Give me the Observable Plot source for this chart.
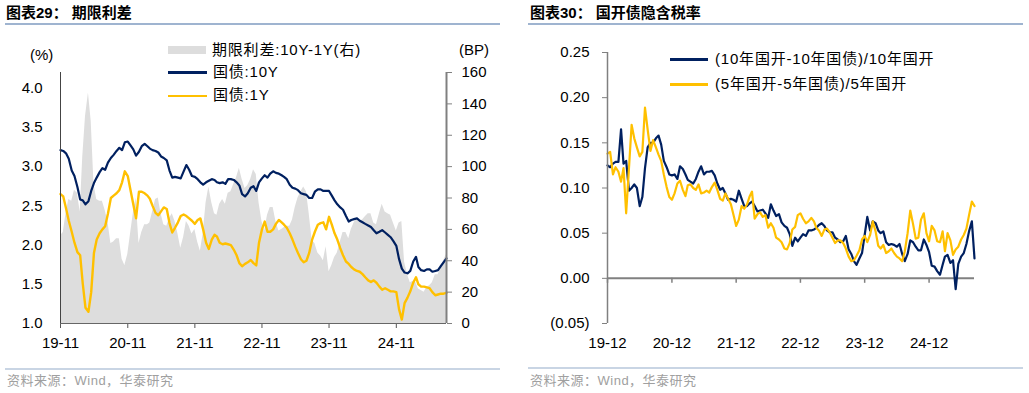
<!DOCTYPE html>
<html>
<head>
<meta charset="utf-8">
<script src="https://cdn.jsdelivr.net/npm/d3@7"></script>
<script src="https://cdn.jsdelivr.net/npm/@observablehq/plot@0.6"></script>
<style>
  html, body { margin: 0; padding: 0; background: #fff; }
  body { width: 1029px; height: 393px; position: relative; overflow: hidden;
         font-family: "Liberation Sans", Arial, "Noto Sans CJK SC", sans-serif; color: #000; }
  .abs { position: absolute; white-space: nowrap; }
  .title { font-size: 15px; font-weight: bold; line-height: 18px; }
  .hr { height: 1.5px; background: #9fb4d0; }
  .fr { height: 2px; background: #c9d5e4; }
  .src { font-size: 13px; color: #a0a0a0; line-height: 16px; letter-spacing: 0.5px; }
  .lg { font-size: 15px; line-height: 18px; letter-spacing: 0.8px; }
  .unit { font-size: 15px; line-height: 18px; }
</style>
</head>
<body>
<script>
// ---------- Chart 29: 期限利差 ----------
const dates1 = (
  "2019-11-01 2019-11-16 2019-12-01 2019-12-16 " +
  "2020-01-01 2020-01-16 2020-02-01 2020-02-16 2020-03-01 2020-03-16 2020-04-01 2020-04-16 2020-05-01 2020-05-16 2020-06-01 2020-06-16 " +
  "2020-07-01 2020-07-16 2020-08-01 2020-08-16 2020-09-01 2020-09-16 2020-10-01 2020-10-16 2020-11-01 2020-11-16 2020-12-01 2020-12-16 " +
  "2021-01-01 2021-01-16 2021-02-01 2021-02-16 2021-03-01 2021-03-16 2021-04-01 2021-04-16 2021-05-01 2021-05-16 2021-06-01 2021-06-16 " +
  "2021-07-01 2021-07-16 2021-08-01 2021-08-16 2021-09-01 2021-09-16 2021-10-01 2021-10-16 2021-11-01 2021-11-16 2021-12-01 2021-12-16 " +
  "2022-01-01 2022-01-16 2022-02-01 2022-02-16 2022-03-01 2022-03-16 2022-04-01 2022-04-16 2022-05-01 2022-05-16 2022-06-01 2022-06-16 " +
  "2022-07-01 2022-07-16 2022-08-01 2022-08-16 2022-09-01 2022-09-16 2022-10-01 2022-10-16 2022-11-01 2022-11-16 2022-12-01 2022-12-16 " +
  "2023-01-01 2023-01-16 2023-02-01 2023-02-16 2023-03-01 2023-03-16 2023-04-01 2023-04-16 2023-05-01 2023-05-16 2023-06-01 2023-06-16 " +
  "2023-07-01 2023-07-16 2023-08-01 2023-08-16 2023-09-01 2023-09-16 2023-10-01 2023-10-16 2023-11-01 2023-11-16 2023-12-01 2023-12-16 " +
  "2024-01-01 2024-01-16 2024-02-01 2024-02-16 2024-03-01 2024-03-16 2024-04-01 2024-04-16 2024-05-01 2024-05-16 2024-06-01 2024-06-16 " +
  "2024-07-01 2024-07-16 2024-08-01 2024-08-16 2024-09-01 2024-09-16 2024-10-01 2024-10-16 2024-11-01 2024-11-16 2024-12-01 2024-12-16 " +
  "2025-01-01 2025-01-16 2025-02-01 2025-02-16 2025-03-01 2025-03-16 2025-04-01 2025-04-16 2025-05-01 2025-05-16 2025-06-01 2025-06-16 " +
  "2025-07-01 2025-07-16 2025-08-01").split(" ");

const cgb10y = [
  3.21, 3.20, 3.17, 3.10, 2.95, 2.88, 2.74, 2.58, 2.57, 2.52,
  2.56, 2.69, 2.79, 2.86, 2.93, 2.98, 2.96, 3.05, 3.11, 3.15,
  3.20, 3.24, 3.21, 3.31, 3.32, 3.27, 3.22, 3.14, 3.19, 3.26,
  3.29, 3.26, 3.23, 3.21, 3.20, 3.18, 3.13, 3.11, 3.08, 2.95,
  2.86, 2.87, 2.86, 2.85, 2.94, 3.02, 2.96, 2.88, 2.87, 2.84,
  2.80, 2.77, 2.80, 2.82, 2.84, 2.83, 2.80, 2.79, 2.80, 2.78,
  2.84, 2.84, 2.83, 2.80, 2.76, 2.65, 2.62, 2.66, 2.73, 2.75,
  2.69, 2.80, 2.85, 2.89, 2.86, 2.91, 2.94, 2.92, 2.91, 2.89,
  2.87, 2.84, 2.77, 2.73, 2.72, 2.70, 2.66, 2.65, 2.64, 2.60,
  2.60, 2.68, 2.71, 2.71, 2.69, 2.69, 2.69, 2.63, 2.57, 2.52,
  2.48, 2.45, 2.37, 2.30, 2.32, 2.33, 2.34, 2.31, 2.29, 2.27,
  2.25, 2.23, 2.19, 2.15, 2.17, 2.19, 2.16, 2.13, 2.10, 2.05,
  1.99, 1.82, 1.70, 1.65, 1.64, 1.67, 1.79, 1.85, 1.72, 1.68,
  1.67, 1.69, 1.69, 1.66, 1.67, 1.68, 1.73, 1.78, 1.83
];
const cgb1y = [
  2.65, 2.62, 2.47, 2.31, 2.17, 2.03, 1.91, 1.87, 1.51, 1.20,
  1.15, 1.40, 1.90, 2.07, 2.15, 2.20, 2.24, 2.40, 2.60, 2.63,
  2.66, 2.70, 2.80, 2.94, 2.88, 2.70, 2.52, 2.34, 2.68, 2.68,
  2.66, 2.63, 2.59, 2.50, 2.41, 2.38, 2.43, 2.48, 2.46, 2.28,
  2.16, 2.22, 2.29, 2.37, 2.39, 2.37, 2.34, 2.31, 2.27, 2.32,
  2.34, 2.20, 2.03, 1.95, 2.07, 2.13, 2.11, 2.03, 2.01, 2.02,
  2.01, 2.00, 1.94, 1.87, 1.77, 1.73, 1.76, 1.78, 1.81, 1.77,
  1.74, 2.03, 2.20, 2.30, 2.17, 2.17, 2.20, 2.27, 2.32, 2.29,
  2.26, 2.22, 2.15, 2.07, 1.98, 1.90, 1.82, 1.78, 1.80, 1.90,
  2.07, 2.17, 2.26, 2.28, 2.29, 2.20, 2.36, 2.26, 2.15, 2.07,
  1.96, 1.87, 1.79, 1.76, 1.72, 1.69, 1.67, 1.66, 1.63, 1.59,
  1.55, 1.53, 1.55, 1.52, 1.47, 1.43, 1.45, 1.43, 1.41, 1.41,
  1.40, 1.18, 1.05, 1.26, 1.33, 1.41, 1.52, 1.59, 1.50, 1.47,
  1.47, 1.46, 1.45, 1.40, 1.36, 1.37, 1.38, 1.38, 1.39
];
const spreadBP = [
  56, 58, 70, 79, 78, 85, 83, 71, 106, 132,
  147, 129, 89, 79, 78, 78, 72, 65, 51, 52,
  54, 54, 41, 37, 44, 57, 70, 80, 51, 58,
  63, 63, 64, 71, 79, 80, 70, 63, 62, 67,
  70, 65, 57, 48, 55, 65, 62, 57, 60, 52,
  46, 57, 77, 87, 77, 70, 69, 76, 79, 76,
  83, 84, 89, 93, 99, 92, 86, 88, 92, 98,
  95, 77, 65, 59, 69, 74, 74, 65, 59, 60,
  61, 62, 62, 66, 74, 80, 84, 87, 84, 70,
  53, 51, 45, 43, 40, 49, 33, 37, 42, 45,
  52, 58, 58, 54, 60, 64, 67, 65, 66, 68,
  70, 70, 64, 63, 70, 76, 71, 70, 69, 64,
  59, 64, 65, 39, 31, 26, 27, 26, 22, 21,
  20, 23, 24, 26, 31, 31, 35, 40, 44
];
const leftYTicks = [1.0, 1.5, 2.0, 2.5, 3.0, 3.5, 4.0];
const rightBPTicks = [0, 20, 40, 60, 80, 100, 120, 140, 160];
const xTicks1 = ["2019-11-01", "2020-11-01", "2021-11-01", "2022-11-01", "2023-11-01", "2024-11-01"];

// ---------- Chart 30: 国开债隐含税率 ----------
const dates2 = (
  "2019-12-01 2019-12-16 " +
  "2020-01-01 2020-01-16 2020-02-01 2020-02-16 2020-03-01 2020-03-16 2020-04-01 2020-04-16 2020-05-01 2020-05-16 2020-06-01 2020-06-16 " +
  "2020-07-01 2020-07-16 2020-08-01 2020-08-16 2020-09-01 2020-09-16 2020-10-01 2020-10-16 2020-11-01 2020-11-16 2020-12-01 2020-12-16 " +
  "2021-01-01 2021-01-16 2021-02-01 2021-02-16 2021-03-01 2021-03-16 2021-04-01 2021-04-16 2021-05-01 2021-05-16 2021-06-01 2021-06-16 " +
  "2021-07-01 2021-07-16 2021-08-01 2021-08-16 2021-09-01 2021-09-16 2021-10-01 2021-10-16 2021-11-01 2021-11-16 2021-12-01 2021-12-16 " +
  "2022-01-01 2022-01-16 2022-02-01 2022-02-16 2022-03-01 2022-03-16 2022-04-01 2022-04-16 2022-05-01 2022-05-16 2022-06-01 2022-06-16 " +
  "2022-07-01 2022-07-16 2022-08-01 2022-08-16 2022-09-01 2022-09-16 2022-10-01 2022-10-16 2022-11-01 2022-11-16 2022-12-01 2022-12-16 " +
  "2023-01-01 2023-01-16 2023-02-01 2023-02-16 2023-03-01 2023-03-16 2023-04-01 2023-04-16 2023-05-01 2023-05-16 2023-06-01 2023-06-16 " +
  "2023-07-01 2023-07-16 2023-08-01 2023-08-16 2023-09-01 2023-09-16 2023-10-01 2023-10-16 2023-11-01 2023-11-16 2023-12-01 2023-12-16 " +
  "2024-01-01 2024-01-16 2024-02-01 2024-02-16 2024-03-01 2024-03-16 2024-04-01 2024-04-16 2024-05-01 2024-05-16 2024-06-01 2024-06-16 " +
  "2024-07-01 2024-07-16 2024-08-01 2024-08-16 2024-09-01 2024-09-16 2024-10-01 2024-10-16 2024-11-01 2024-11-16 2024-12-01 2024-12-16 " +
  "2025-01-01 2025-01-16 2025-02-01 2025-02-16 2025-03-01 2025-03-16 2025-04-01 2025-04-16 2025-05-01 2025-05-16 2025-06-01 2025-06-16 " +
  "2025-07-01 2025-07-16 2025-08-01 2025-08-16").split(" ");

const taxRate10 = [
  0.125, 0.123, 0.127, 0.129, 0.129, 0.165, 0.127, 0.130, 0.097, 0.100,
  0.104, 0.100, 0.080, 0.090, 0.122, 0.145, 0.150, 0.150, 0.155, 0.158,
  0.148, 0.130, 0.123, 0.115, 0.114, 0.115, 0.110, 0.124, 0.121, 0.115,
  0.109, 0.107, 0.105, 0.110, 0.118, 0.124, 0.115, 0.118, 0.118, 0.119,
  0.114, 0.105, 0.098, 0.100, 0.094, 0.087, 0.088, 0.087, 0.085, 0.097,
  0.088, 0.080, 0.080, 0.083, 0.085, 0.080, 0.074, 0.075, 0.076, 0.072,
  0.067, 0.082, 0.075, 0.069, 0.071, 0.062, 0.058, 0.056, 0.049, 0.036,
  0.045, 0.041, 0.045, 0.049, 0.047, 0.053, 0.053, 0.054, 0.056, 0.059,
  0.061, 0.058, 0.053, 0.051, 0.051, 0.045, 0.043, 0.040, 0.041, 0.047,
  0.032, 0.027, 0.019, 0.015, 0.022, 0.028, 0.048, 0.068, 0.053, 0.063,
  0.061, 0.053, 0.050, 0.052, 0.040, 0.037, 0.038, 0.037, 0.035, 0.038,
  0.027, 0.019, 0.027, 0.042, 0.040, 0.035, 0.031, 0.031, 0.043, 0.037,
  0.029, 0.014, 0.013, 0.008, 0.004, 0.015, 0.024, 0.026, 0.017, 0.020,
  -0.012, 0.016, 0.024, 0.028, 0.038, 0.052, 0.063, 0.022
];
const taxRate5 = [
  0.138, 0.140, 0.115, 0.123, 0.118, 0.107, 0.122, 0.072, 0.122, 0.170,
  0.155, 0.145, 0.135, 0.140, 0.189, 0.165, 0.141, 0.153, 0.145, 0.137,
  0.130, 0.115, 0.101, 0.090, 0.087, 0.094, 0.105, 0.108, 0.098, 0.091,
  0.103, 0.104, 0.100, 0.098, 0.104, 0.094, 0.095, 0.097, 0.095, 0.101,
  0.106, 0.098, 0.088, 0.086, 0.094, 0.088, 0.082, 0.070, 0.058, 0.065,
  0.080, 0.077, 0.082, 0.091, 0.096, 0.066, 0.071, 0.073, 0.068, 0.070,
  0.056, 0.061, 0.056, 0.045, 0.043, 0.040, 0.033, 0.032, 0.039, 0.054,
  0.057, 0.070, 0.072, 0.066, 0.061, 0.063, 0.067, 0.063, 0.056, 0.053,
  0.047, 0.054, 0.055, 0.051, 0.045, 0.039, 0.042, 0.042, 0.039, 0.033,
  0.024, 0.019, 0.020, 0.025, 0.031, 0.043, 0.047, 0.040, 0.048, 0.063,
  0.052, 0.036, 0.033, 0.037, 0.028, 0.030, 0.033, 0.028, 0.024, 0.022,
  0.019, 0.030, 0.050, 0.075, 0.060, 0.044, 0.045, 0.065, 0.072, 0.050,
  0.041, 0.058, 0.053, 0.041, 0.040, 0.052, 0.030, 0.050, 0.042, 0.026,
  0.032, 0.035, 0.043, 0.048, 0.055, 0.070, 0.085, 0.080
];
const rightYTicks = [-0.05, 0, 0.05, 0.10, 0.15, 0.20, 0.25];
const xTicks2 = ["2019-12-01", "2020-12-01", "2021-12-01", "2022-12-01", "2023-12-01", "2024-12-01"];

// ---------- styles ----------
const NAVY = "#002060", GOLD = "#FFC000", GREY_AREA = "#dddddd", AXIS_GREY = "#808080";
const FONT = '"Liberation Sans", Arial, "Noto Sans CJK SC", sans-serif';
const fmtDate = d3.utcFormat("%y-%m");

function addEl(cls, style, html) {
  const el = document.createElement("div");
  el.className = "abs " + cls;
  Object.assign(el.style, style);
  if (html != null) el.innerHTML = html;
  document.body.appendChild(el);
  return el;
}

// ===== Left chart =====
const left = dates1.map((d, i) => ({date: new Date(d), y10: cgb10y[i], y1: cgb1y[i], sp: spreadBP[i]}));
const x1Start = new Date(dates1[0]), x1End = new Date(dates1[dates1.length - 1]);
const bpToY = v => 1 + v / 50; // right axis: 160BP spans 1.0..4.2

const plotL = Plot.plot({
  width: 510, height: 320,
  marginLeft: 60, marginRight: 64, marginTop: 32, marginBottom: 37,
  style: {fontFamily: FONT, fontSize: "15px", color: "#000", background: "transparent", overflow: "visible"},
  x: {type: "utc", domain: [x1Start, x1End]},
  y: {domain: [1, 4.2]},
  marks: [
    Plot.areaY(left, {x: "date", y1: 1, y2: d => bpToY(d.sp), fill: GREY_AREA, curve: "linear"}),
    Plot.line(left, {x: "date", y: "y10", stroke: NAVY, strokeWidth: 2.2}),
    Plot.line(left, {x: "date", y: "y1", stroke: GOLD, strokeWidth: 2.4}),
    Plot.axisY(leftYTicks, {anchor: "left", tickSize: 0, tickPadding: 18, tickFormat: d3.format(".1f"), label: null, fontSize: 15}),
    Plot.axisY(rightBPTicks.map(bpToY), {anchor: "right", tickSize: 5, tickPadding: 10, stroke: AXIS_GREY,
      tickFormat: v => String(Math.round((v - 1) * 50)), label: null, fontSize: 15}),
    Plot.axisX(xTicks1.map(d => new Date(d)), {anchor: "bottom", tickSize: 5, tickPadding: 9, stroke: "#555",
      tickFormat: fmtDate, label: null, fontSize: 15}),
    Plot.ruleX([x1Start], {stroke: "#444", strokeWidth: 1}),
    Plot.ruleX([x1End], {stroke: AXIS_GREY, strokeWidth: 2}),
    Plot.ruleY([1], {stroke: "#666", strokeWidth: 1.2})
  ]
});
const boxL = document.createElement("div");
boxL.style.cssText = "position:absolute;left:0px;top:40px;";
boxL.appendChild(plotL);
document.body.appendChild(boxL);

// ===== Right chart =====
const right = dates2.map((d, i) => ({date: new Date(d), r10: taxRate10[i], r5: taxRate5[i]}));
const x2Start = new Date(dates2[0]), x2End = new Date(dates2[dates2.length - 1]);
const fmtRate = v => v < 0 ? "(" + d3.format(".2f")(-v) + ")" : d3.format(".2f")(v);

const plotR = Plot.plot({
  width: 514, height: 320,
  marginLeft: 92, marginRight: 55, marginTop: 12, marginBottom: 37,
  style: {fontFamily: FONT, fontSize: "15px", color: "#000", background: "transparent", overflow: "visible"},
  x: {type: "utc", domain: [x2Start, x2End]},
  y: {domain: [-0.05, 0.25]},
  marks: [
    Plot.ruleY([0], {stroke: AXIS_GREY, strokeWidth: 2}),
    Plot.ruleX(xTicks2.map(d => new Date(d)), {x: d => d, y1: 0, y2: -0.0055, stroke: AXIS_GREY, strokeWidth: 1.5}),
    Plot.line(right, {x: "date", y: "r10", stroke: NAVY, strokeWidth: 2.2}),
    Plot.line(right, {x: "date", y: "r5", stroke: GOLD, strokeWidth: 2.2}),
    Plot.axisY(rightYTicks, {anchor: "left", tickSize: 5, tickPadding: 13, stroke: AXIS_GREY,
      tickFormat: fmtRate, label: null, fontSize: 15}),
    Plot.axisX(xTicks2.map(d => new Date(d)), {anchor: "bottom", tickSize: 0, tickPadding: 14,
      tickFormat: fmtDate, label: null, fontSize: 15}),
    Plot.ruleX([x2Start], {stroke: AXIS_GREY, strokeWidth: 1.5})
  ]
});
const boxR = document.createElement("div");
boxR.style.cssText = "position:absolute;left:515px;top:40px;";
boxR.appendChild(plotR);
document.body.appendChild(boxR);

// ===== Titles, rules, sources =====
addEl("title", {left: "6px", top: "4px"}, "图表29：&nbsp;期限利差");
addEl("hr", {left: "5px", top: "23px", width: "495px"});
addEl("title", {left: "530px", top: "4px"}, "图表30：&nbsp;国开债隐含税率");
addEl("hr", {left: "528px", top: "23px", width: "495px"});

addEl("fr", {left: "5px", top: "368px", width: "495px"});
addEl("src", {left: "7px", top: "373px"}, "资料来源：Wind，华泰研究");
addEl("fr", {left: "528px", top: "367px", width: "495px"});
addEl("src", {left: "530px", top: "373px"}, "资料来源：Wind，华泰研究");

// ===== Left legend & units =====
addEl("unit", {left: "30px", top: "46px"}, "(%)");
addEl("unit", {left: "459px", top: "41px"}, "(BP)");
addEl("", {left: "168px", top: "46px", width: "38px", height: "8px", background: GREY_AREA});
addEl("lg", {left: "212px", top: "41px"}, "期限利差:10Y-1Y(右)");
addEl("", {left: "168px", top: "71px", width: "39px", height: "2.5px", background: NAVY});
addEl("lg", {left: "213px", top: "63px"}, "国债:10Y");
addEl("", {left: "168px", top: "94.5px", width: "39px", height: "2.5px", background: GOLD});
addEl("lg", {left: "213px", top: "86px"}, "国债:1Y");

// ===== Right legend =====
addEl("", {left: "670px", top: "58px", width: "38px", height: "2.5px", background: NAVY});
addEl("lg", {left: "715px", top: "50px"}, "(10年国开-10年国债)/10年国开");
addEl("", {left: "670px", top: "83px", width: "38px", height: "2.5px", background: GOLD});
addEl("lg", {left: "715px", top: "75px"}, "(5年国开-5年国债)/5年国开");
</script>
</body>
</html>
